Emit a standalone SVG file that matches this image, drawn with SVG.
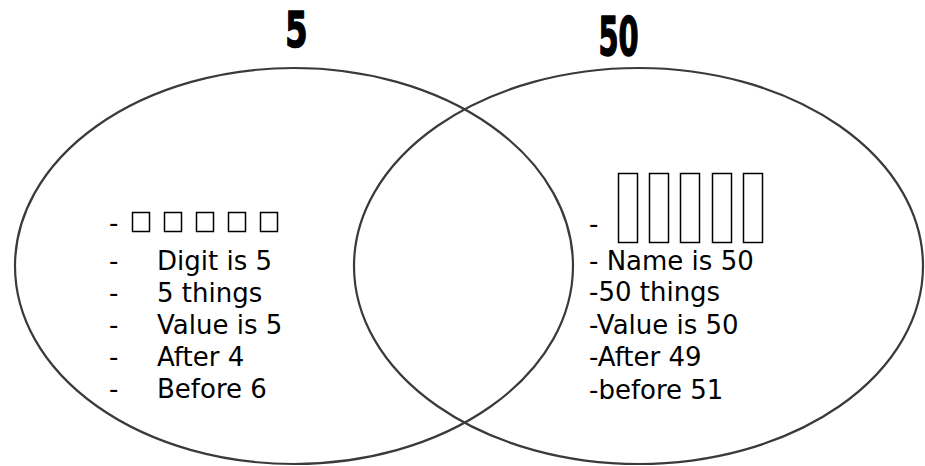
<svg xmlns="http://www.w3.org/2000/svg" width="925" height="466" viewBox="0 0 925 466">
<style>
.circ{fill:none;stroke:#3a3a3a;stroke-width:2.2}
.title{font-family:"DejaVu Sans",sans-serif;font-weight:bold;fill:#000;stroke:#000;stroke-width:1.6;stroke-linejoin:round}
.t{font-family:"DejaVu Sans","Verdana",sans-serif;font-size:26px;fill:#000}
.box{fill:none;stroke:#000;stroke-width:1.5}
</style>
<rect width="925" height="466" fill="#fff"/>
<g id="set-5">
<ellipse class="circ" cx="294" cy="266" rx="279" ry="198"/>
</g>
<g id="set-50">
<ellipse class="circ" cx="638.5" cy="266" rx="284.5" ry="198"/>
</g>
<g id="title-5"><text class="title" font-size="50" text-anchor="middle" transform="translate(296.5,46.5) scale(0.64,1)">5</text></g>
<g id="title-50"><text class="title" font-size="52.5" text-anchor="middle" transform="translate(618.5,54.5) scale(0.55,1)">50</text></g>
<g id="list-5">
<text class="t" x="109" y="232">-</text>
<rect class="box" x="132.5" y="212.5" width="17" height="19"/>
<rect class="box" x="164.5" y="212.5" width="17" height="19"/>
<rect class="box" x="196.5" y="212.5" width="17" height="19"/>
<rect class="box" x="228.5" y="212.5" width="17" height="19"/>
<rect class="box" x="260.5" y="212.5" width="17" height="19"/>
<text class="t" x="109" y="270">-</text><text class="t" x="157" y="270">Digit is 5</text>
<text class="t" x="109" y="302">-</text><text class="t" x="157" y="302">5 things</text>
<text class="t" x="109" y="334">-</text><text class="t" x="157" y="334">Value is 5</text>
<text class="t" x="109" y="366">-</text><text class="t" x="157" y="366">After 4</text>
<text class="t" x="109" y="398">-</text><text class="t" x="157" y="398">Before 6</text>
</g>
<g id="list-50">
<text class="t" x="589" y="233">-</text>
<rect class="box" x="618.5" y="173.5" width="19" height="69"/>
<rect class="box" x="649.5" y="173.5" width="19" height="69"/>
<rect class="box" x="680.5" y="173.5" width="19" height="69"/>
<rect class="box" x="712.5" y="173.5" width="19" height="69"/>
<rect class="box" x="743.5" y="173.5" width="19" height="69"/>
<text class="t" x="589" y="270">- Name is 50</text>
<text class="t" x="589" y="301">-50 things</text>
<text class="t" x="589" y="334">-Value is 50</text>
<text class="t" x="589" y="366">-After 49</text>
<text class="t" x="589" y="399">-before 51</text>
</g>
</svg>
